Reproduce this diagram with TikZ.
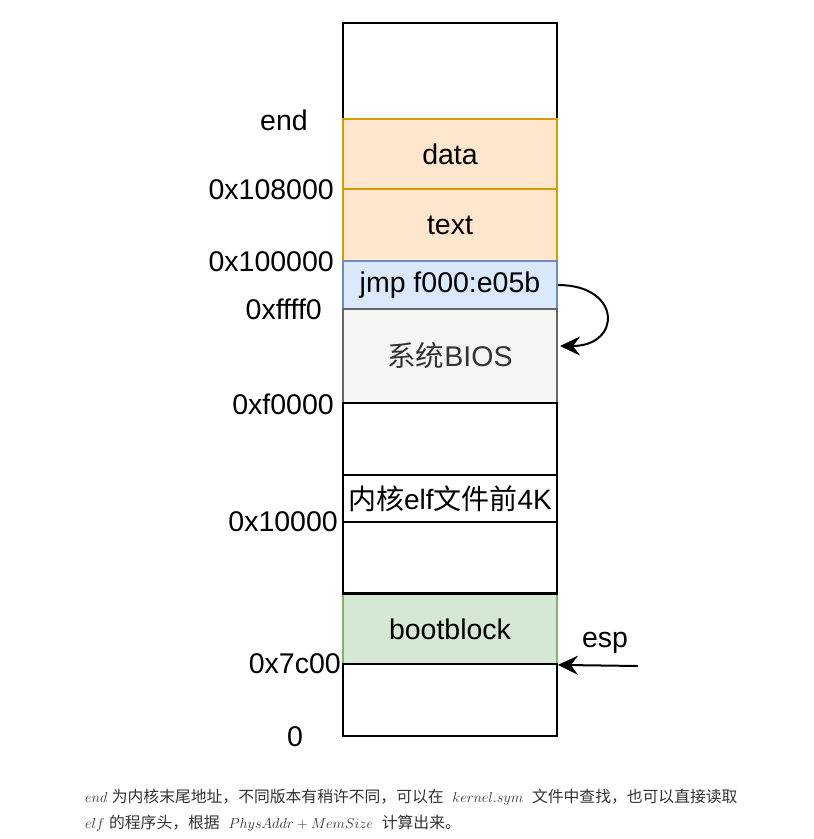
\documentclass[tikz,border=0pt]{standalone}
\usepackage{fontspec}
\setmainfont{Liberation Sans}
\newfontfamily\cjk{Noto Sans CJK SC}
\usetikzlibrary{arrows.meta}
\definecolor{orgfill}{HTML}{FFE6CC}
\definecolor{orgline}{HTML}{D79B00}
\definecolor{bluefill}{HTML}{DAE8FC}
\definecolor{blueline}{HTML}{6C8EBF}
\definecolor{grayfill}{HTML}{F5F5F5}
\definecolor{grayline}{HTML}{666666}
\definecolor{graytext}{HTML}{333333}
\definecolor{greenfill}{HTML}{D5E8D4}
\definecolor{greenline}{HTML}{82B366}
\definecolor{captext}{HTML}{333333}
\begin{document}
\begin{tikzpicture}[x=1pt,y=-1pt,
  mem/.style={draw=black,fill=white,line width=1.8pt,minimum width=214pt,inner sep=0pt,font=\fontsize{28.5}{32}\selectfont},
  orgbox/.style={mem,draw=orgline,fill=orgfill},
  bluebox/.style={mem,draw=blueline,fill=bluefill},
  graybox/.style={mem,draw=grayline,fill=grayfill,text=graytext},
  greenbox/.style={mem,draw=greenline,fill=greenfill},
  addr/.style={anchor=east,inner sep=0pt,font=\fontsize{28.5}{32}\selectfont},
  arr/.style={line width=2pt,-{Stealth[length=20pt,width=19pt,inset=7pt]}},
  captext/.style={anchor=west,inner sep=0pt,text=captext,font=\fontsize{15.8}{19}\selectfont}]
\useasboundingbox (0,0) rectangle (814,839);
% memory boxes
\node[mem,minimum height=96pt] (top) at (450,71) {};
\node[orgbox,minimum height=70pt] (data) at (450,154) {data};
\node[orgbox,minimum height=72pt] (text) at (450,225) {text};
\node[bluebox,minimum height=48pt] (jmp) at (450,285) {jmp f000:e05b};
\node[graybox,minimum height=94pt] (bios) at (450,356) {{\cjk 系统}BIOS};
\node[greenbox,minimum height=70pt] (boot) at (450,629) {bootblock};
\node[mem,minimum height=72pt] (e1) at (450,439) {};
\node[mem,minimum height=47pt,font=\fontsize{28}{32}\selectfont] (kern) at (450,498.5) {{\cjk 内核}elf{\cjk 文件前}4K};
\node[mem,minimum height=72pt] (e2) at (450,558) {};
\draw[line width=1.8pt] (boot.north west) -- (boot.north east);
\node[mem,minimum height=72pt] (bot) at (450,700) {};
% addresses
\node[addr,anchor=center] (lend) at (284,120) {end};
\node[addr] (l108) at (334,190) {0x108000};
\node[addr] (l100) at (334,262) {0x100000};
\node[addr] (lffff) at (322,309) {0xffff0};
\node[addr] (lf0) at (334,404) {0xf0000};
\node[addr] (l10) at (338,522) {0x10000};
\node[addr] (l7c) at (341,664) {0x7c00};
\node[addr,anchor=center] (l0) at (295,737) {0};
% jump arrow
\coordinate (jmpend) at (560,346);
\draw[arr] (jmp.east) .. controls (622,285) and (622,346) .. (jmpend);
% esp arrow
\coordinate (espstart) at (638,666);
\draw[arr] (espstart) -- (boot.south east);
\node[inner sep=0pt,font=\fontsize{28.5}{32}\selectfont] (esp) at (605,643) {esp};
% caption
\node[captext] (cap1) at (85,797) {$end$\ {\cjk 为内核末尾地址，不同版本有稍许不同，可以在}\ \ $kernel.sym$\ \ {\cjk 文件中查找，也可以直接读取}};
\node[captext] (cap2) at (85,823) {$elf$\ {\cjk 的程序头，根据}\ \ $PhysAddr+MemSize$\ \ {\cjk 计算出来。}};
\end{tikzpicture}
\end{document}
